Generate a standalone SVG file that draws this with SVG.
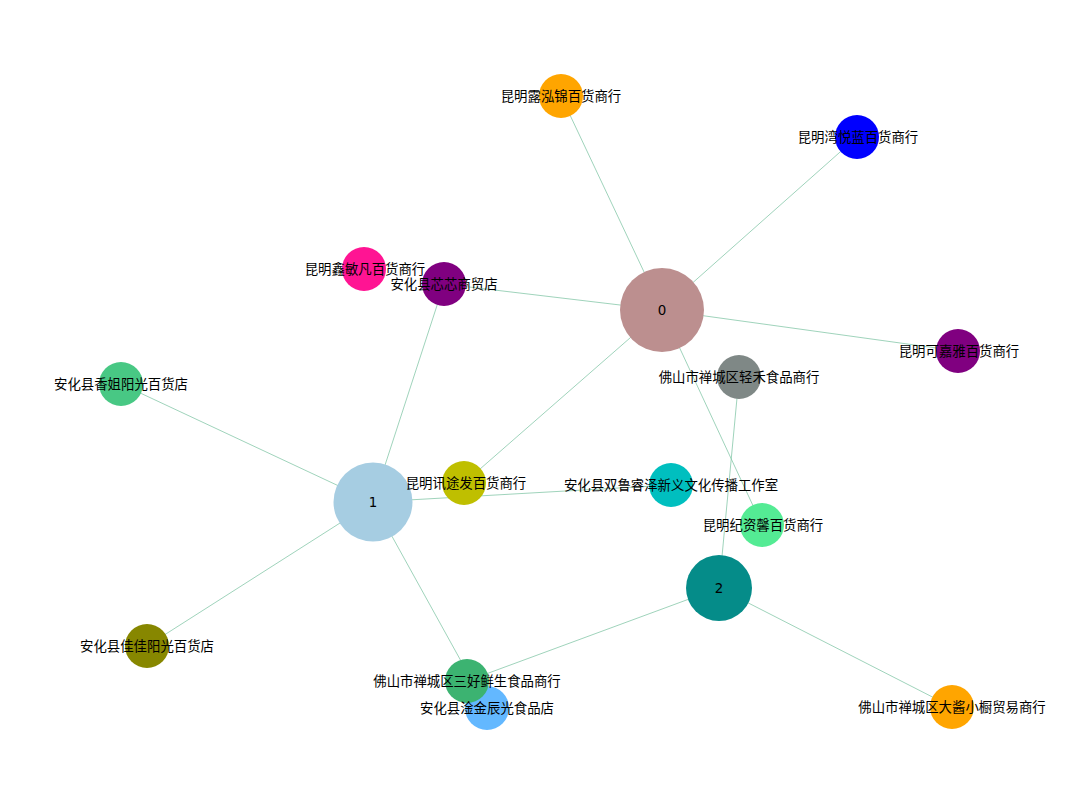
<svg xmlns="http://www.w3.org/2000/svg" width="1080" height="806" viewBox="0 0 1080 806">
<style>
.e{stroke:#86c8aa;stroke-width:0.8;fill:none}
.t{font-family:"Liberation Sans","Noto Sans CJK SC",sans-serif;font-size:13.4px;fill:#000;text-anchor:middle}
.n{font-family:"DejaVu Sans",sans-serif;font-size:13.4px;fill:#000;text-anchor:middle}
</style>
<rect width="1080" height="806" fill="#fff"/>
<g id="edges">
<line class="e" x1="662" y1="310" x2="561" y2="96"/>
<line class="e" x1="662" y1="310" x2="857" y2="137"/>
<line class="e" x1="662" y1="310" x2="444" y2="284"/>
<line class="e" x1="662" y1="310" x2="958" y2="351"/>
<line class="e" x1="662" y1="310" x2="464" y2="483"/>
<line class="e" x1="662" y1="310" x2="762" y2="525"/>
<line class="e" x1="373" y1="502" x2="444" y2="284"/>
<line class="e" x1="373" y1="502" x2="121" y2="384"/>
<line class="e" x1="373" y1="502" x2="147" y2="646"/>
<line class="e" x1="373" y1="502" x2="671" y2="485"/>
<line class="e" x1="373" y1="502" x2="487" y2="708"/>
<line class="e" x1="719" y1="588" x2="467" y2="681"/>
<line class="e" x1="719" y1="588" x2="952" y2="707"/>
<line class="e" x1="719" y1="588" x2="739" y2="377"/>
</g>
<g id="n0"><circle cx="662" cy="310" r="42" fill="#bc8f8f"/></g>
<g id="n1"><circle cx="373" cy="502" r="39.5" fill="#a6cde2"/></g>
<g id="n2"><circle cx="719" cy="588" r="33" fill="#058c89"/></g>
<g id="lulu"><circle cx="561" cy="96" r="22" fill="#ffa500"/></g>
<g id="wanyue"><circle cx="857" cy="137" r="22" fill="#0000ff"/></g>
<g id="xinmin"><circle cx="364" cy="269" r="22" fill="#ff1493"/></g>
<g id="xinxin"><circle cx="444" cy="284" r="22" fill="#800080"/></g>
<g id="kejia"><circle cx="958" cy="351" r="22" fill="#800080"/></g>
<g id="qinghe"><circle cx="739" cy="377" r="22" fill="#7f8886"/></g>
<g id="xiangjie"><circle cx="121" cy="384" r="22" fill="#48c884"/></g>
<g id="xuntu"><circle cx="464" cy="483" r="22" fill="#bfbf00"/></g>
<g id="shuanglu"><circle cx="671" cy="485" r="22" fill="#00bfbf"/></g>
<g id="jizi"><circle cx="762" cy="525" r="22" fill="#54eb94"/></g>
<g id="jiajia"><circle cx="147" cy="646" r="22" fill="#878700"/></g>
<g id="ganjin"><circle cx="487" cy="708" r="22" fill="#63b8ff"/></g>
<g id="sanhao"><circle cx="467" cy="681" r="22" fill="#3cb371"/></g>
<g id="dajiang"><circle cx="952" cy="707" r="22" fill="#ffa500"/></g>
<g id="labels">
<text class="n" x="662" y="315">0</text>
<text class="n" x="373" y="507">1</text>
<text class="n" x="719" y="593">2</text>
<text class="t" x="561" y="101">昆明露泓锦百货商行</text>
<text class="t" x="858" y="142">昆明湾悦蓝百货商行</text>
<text class="t" x="365" y="274">昆明鑫敏凡百货商行</text>
<text class="t" x="444" y="289">安化县芯芯商贸店</text>
<text class="t" x="959" y="356">昆明可嘉雅百货商行</text>
<text class="t" x="739" y="382">佛山市禅城区轻禾食品商行</text>
<text class="t" x="121" y="389">安化县香姐阳光百货店</text>
<text class="t" x="466" y="488">昆明讯途发百货商行</text>
<text class="t" x="671" y="490">安化县双鲁睿泽新义文化传播工作室</text>
<text class="t" x="763" y="530">昆明纪资馨百货商行</text>
<text class="t" x="147" y="651">安化县佳佳阳光百货店</text>
<text class="t" x="467" y="686">佛山市禅城区三好鲜生食品商行</text>
<text class="t" x="487" y="713">安化县淦金辰光食品店</text>
<text class="t" x="952" y="712">佛山市禅城区大酱小橱贸易商行</text>
</g>
</svg>
